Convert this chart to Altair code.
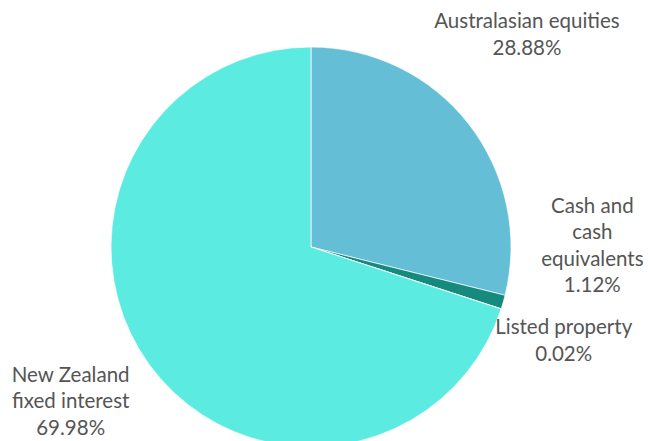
import altair as alt
import pandas as pd

categories = ["Australasian equities", "Cash and cash equivalents", "Listed property", "New Zealand fixed interest"]
values = [28.88, 1.12, 0.02, 69.98]
label_names = ["Australasian equities", "Cash and\ncash\nequivalents", "Listed property", "New Zealand\nfixed interest"]
colors = ["#64BFD6", "#178A7E", "#2E7D8C", "#5CEBE1"]

df = pd.DataFrame({
    "idx": list(range(len(categories))),
    "cat": categories,
    "value": values,
    "label": [f"{n}\n{v:.2f}%" for n, v in zip(label_names, values)],
})

CX, CY, R = 303, 239, 200

base = alt.Chart(df)

pie = base.mark_arc(radius=R, stroke="#ffffff", strokeWidth=0.7).encode(
    theta=alt.Theta("value:Q", stack=True),
    order=alt.Order("idx:Q"),
    color=alt.Color("cat:N", scale=alt.Scale(domain=categories, range=colors), legend=None),
    x=alt.value(CX),
    y=alt.value(CY),
)

offsets = {
    "Australasian equities": (19, -71),
    "Cash and cash equivalents": (41, -109),
    "Listed property": (15, 4),
    "New Zealand fixed interest": (-38, -18),
}

layers = [pie]
for cat in categories:
    dx, dy = offsets[cat]
    t = base.transform_window(
        cum="sum(value)", sort=[alt.SortField("idx")]
    ).transform_calculate(
        mid="datum.cum - datum.value / 2"
    ).transform_filter(
        alt.datum.cat == cat
    ).mark_text(
        radius=250, dx=dx, dy=dy, lineBreak="\n", fontSize=20.5, lineHeight=26.5,
        font="Lato", color="#555555", align="center", baseline="middle",
    ).encode(
        theta=alt.Theta("mid:Q"),
        text="label:N",
        x=alt.value(CX),
        y=alt.value(CY),
    )
    layers.append(t)

chart = alt.layer(*layers).properties(
    width=637, height=433, padding=0,
    autosize=alt.AutoSizeParams(type="none"),
).configure_view(stroke=None)

chart.save("out.html", embed_options={"renderer": "svg", "actions": False})
